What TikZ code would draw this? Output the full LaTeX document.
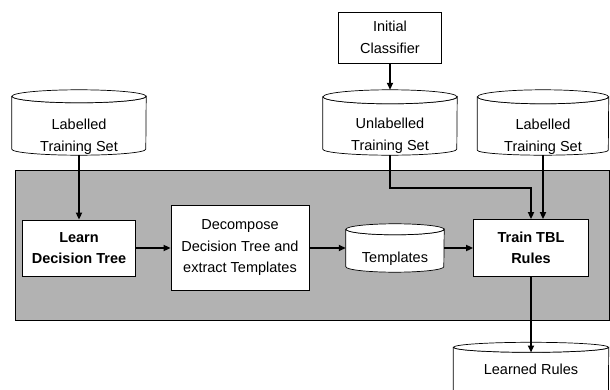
\documentclass[tikz,border=0pt]{standalone}
\usepackage{fontspec}
\setmainfont{Liberation Sans}
\usetikzlibrary{arrows.meta}
\newcommand\fs{\fontsize{14.5}{21.5}\selectfont}
\newcommand\drawcyl[4]{% name, x radius, top y radius, bottom y radius
  \path (#1.north west) ++(0,#3) coordinate (#1-tl)
        (#1.north east) ++(0,#3) coordinate (#1-tr)
        (#1.south west) ++(0,-#4) coordinate (#1-bl)
        (#1.north) ++(0,#3) coordinate (#1-tc);
  \filldraw[cylline] (#1-tl) -- (#1-bl) arc[start angle=180,end angle=0,x radius=#2,y radius=#4]
     -- (#1-tr) arc[start angle=0,end angle=180,x radius=#2,y radius=#3] -- cycle;
  \filldraw[cylline] (#1-tc) ellipse [x radius=#2, y radius=#3];
}
\tikzset{
  box/.style={draw=black, line width=0.8pt, fill=white, inner sep=0pt, align=center, font=\fs},
  cylbox/.style={inner sep=0pt, draw=none},
  lbl/.style={inner sep=0pt, align=center, font=\fs},
  cylline/.style={draw=black, line width=0.7pt, fill=white},
  panel/.style={draw=black, line width=0.8pt, fill=black!30},
  arr/.style={line width=2pt, -{Triangle[length=7pt,width=6pt]}},
}
\begin{document}
\begin{tikzpicture}[x=1pt,y=-1pt]
\useasboundingbox (0,0) rectangle (610,390);
\clip (0,0) rectangle (610,390);
\fill[white] (0,0) rectangle (610,390);

% gray panel
\draw[panel] (15,170) rectangle (609,320);

% process boxes
\node[box, minimum width=113pt, minimum height=56pt, font=\fs\bfseries] (ldt) at (79,248) {Learn\\Decision Tree};
\node[box, minimum width=138pt, minimum height=85pt] (dec) at (240,248) {Decompose\\Decision Tree and\\extract Templates};
\node[box, minimum width=115pt, minimum height=57pt, font=\fs\bfseries] (trn) at (531,248) {Train TBL\\Rules};
\node[box, minimum width=103pt, minimum height=51pt] (init) at (390,37.5) {Initial\\Classifier};

% cylinders
\node[cylbox, minimum width=134pt, minimum height=65pt] (lts1) at (79,122.5) {};
\drawcyl{lts1}{67}{6.5}{6}
\node[lbl] (lts1t) at (79,137) {Labelled\\Training Set};

\node[cylbox, minimum width=134pt, minimum height=65pt] (uts) at (390,122.5) {};
\drawcyl{uts}{67}{7}{6}
\node[lbl] (utst) at (390,136) {Unlabelled\\Training Set};

\node[cylbox, minimum width=131pt, minimum height=65pt] (lts2) at (543,122.5) {};
\drawcyl{lts2}{65.5}{7}{5}
\node[lbl] (lts2t) at (543,137) {Labelled\\Training Set};

\node[cylbox, minimum width=98pt, minimum height=48pt] (tmp) at (395,248) {};
\drawcyl{tmp}{49}{5.5}{5.5}
\node[lbl] (tmpt) at (395,259) {Templates};

\node[cylbox, minimum width=155pt, minimum height=75pt] (lr) at (531,380) {};
\drawcyl{lr}{77.5}{5}{5}
\node[lbl] (lrt) at (531,369.5) {Learned Rules};
\coordinate (lrfront) at (531,352.5);

% connectors
\coordinate (bendy) at (0,188);
\draw[arr] (lts1.south) -- (ldt.north -| lts1.south);
\draw[arr] (ldt.east) -- (dec.west |- ldt.east);
\draw[arr] (dec.east) -- (tmp.west |- dec.east);
\draw[arr] (tmp.east) -- (trn.west |- tmp.east);
\draw[arr] (init.south) -- (uts.north);
\draw[arr] (uts.south) -- (uts.south |- bendy) -| (trn.north);
\draw[arr] (lts2.south) -- (lts2.south |- trn.north);
\draw[arr] (trn.south) -- (trn.south |- lrfront);
\end{tikzpicture}
\end{document}
